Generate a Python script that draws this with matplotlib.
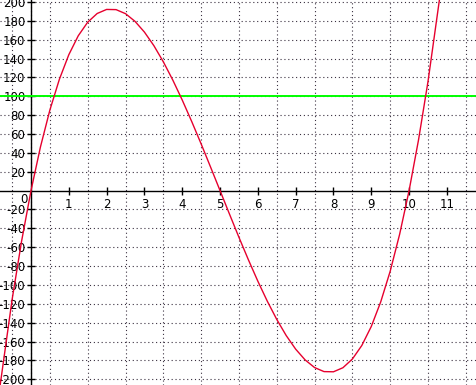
import matplotlib
matplotlib.use('Agg')
import matplotlib.pyplot as plt
import numpy as np

# curve
x_vals = [-0.85, -0.5, -0.25, 0, 0.25, 0.5, 0.75, 1, 1.25, 1.5, 1.75, 2, 2.25,
          2.5, 2.75, 3, 3.25, 3.5, 3.75, 4, 4.25, 4.5, 4.75, 5, 5.25, 5.5,
          5.75, 6, 6.25, 6.5, 6.75, 7, 7.25, 7.5, 7.75, 8, 8.25, 8.5, 8.75,
          9, 9.25, 9.5, 9.75, 10, 10.25, 10.5, 10.85]
y_vals = [-216, -115.5, -53.8, 0, 46.3, 85.5, 117.9, 144, 164.1, 178.5, 187.7,
          192, 191.8, 187.5, 179.4, 168, 153.6, 136.5, 117.2, 96, 73.3, 49.5,
          24.9, 0, -24.9, -49.5, -73.3, -96, -117.2, -136.5, -153.6, -168,
          -179.4, -187.5, -191.8, -192, -187.7, -178.5, -164.1, -144, -117.9,
          -85.5, -46.3, 0, 53.8, 115.5, 215.8]
hline_y = 100

x_ticks = list(range(1, 12))
y_ticks = [v for v in range(-200, 201, 20) if v != 0]

fig = plt.figure(figsize=(4.76, 3.85), dpi=100)
ax = fig.add_axes([0, 0, 1, 1])
ax.set_xlim(-0.82, 11.77)
ax.set_ylim(-206, 202)

# dotted grid
ax.set_xticks(np.arange(-0.5, 12, 0.5), minor=True)
ax.grid(True, which='minor', axis='x', color='#3a3040', linestyle=(0, (1, 2.5)), linewidth=0.8)
ax.grid(True, which='major', axis='y', color='#3a3040', linestyle=(0, (1, 2.5)), linewidth=0.8)
ax.tick_params(which='minor', length=0)

for s in ['top', 'right']:
    ax.spines[s].set_visible(False)
for s in ['left', 'bottom']:
    ax.spines[s].set_position('zero')
    ax.spines[s].set_linewidth(1.0)
    ax.spines[s].set_zorder(3)

ax.set_xticks(x_ticks)
ax.set_xticklabels([str(v) for v in x_ticks])
ax.set_yticks(y_ticks)
ax.set_yticklabels([str(v) for v in y_ticks])
ax.tick_params(axis='x', direction='inout', length=6, width=1.0, pad=2, labelsize=8.5)
ax.tick_params(axis='y', direction='inout', length=6, width=1.0, pad=1, labelsize=8.5)
ax.text(-0.19, -9, '0', ha='center', va='center', fontsize=8.5)

ax.axhline(hline_y, color='#00ff00', linewidth=1.4, zorder=4)
ax.plot(x_vals, y_vals, color='#e6002e', linewidth=1.0, zorder=5)

fig.savefig('out.png', dpi=100)
